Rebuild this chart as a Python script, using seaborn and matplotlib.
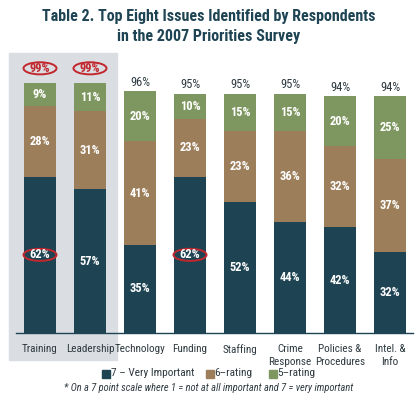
import numpy as np
import pandas as pd
import seaborn as sns
import matplotlib.pyplot as plt
from matplotlib.patches import Ellipse, Rectangle

# datos
issues = ['Training', 'Leadership', 'Technology', 'Funding', 'Staffing',
          'Crime\nResponse', 'Policies &\nProcedures', 'Intel. &\nInfo']
rating7 = [62, 57, 35, 62, 52, 44, 42, 32]
rating6 = [28, 31, 41, 23, 28, 36, 32, 37]   # alto dibujado
rating6_text = ['28%', '31%', '41%', '23%', '23%', '36%', '32%', '37%']   # texto impreso
rating5 = [9, 11, 20, 10, 15, 15, 20, 25]
totals = [99, 99, 96, 95, 95, 95, 94, 94]
circled_total = [True, True, False, False, False, False, False, False]
circled_r7 = [True, False, False, True, False, False, False, False]

c7 = '#1e4454'
c6 = '#9c7e5a'
c5 = '#7e9760'
red = '#c1272d'
title_col = '#1e4454'
txt_col = '#2e3a40'

sns.set_style('white')
plt.rcParams['font.family'] = ['Roboto Condensed', 'Archivo Narrow', 'DejaVu Sans']

df = pd.DataFrame({'issue': issues, 'r7': rating7, 'r6': rating6, 'r5': rating5})
df['r76'] = df['r7'] + df['r6']
df['r765'] = df['r76'] + df['r5']

W, H = 418, 397
fig = plt.figure(figsize=(W / 100, H / 100), dpi=100)
ax = fig.add_axes([16 / W, (H - 333) / H, (413 - 16) / W, (333 - 60) / H])
ax.set_facecolor('none')

# panel gris detras de Training y Leadership
fig.patches.append(Rectangle((9 / W, (H - 360) / H), 108 / W, 307 / H,
                             transform=fig.transFigure, color='#dadde2',
                             zorder=-1))

bw = 0.64
sns.barplot(data=df, x='issue', y='r765', color=c5, saturation=1, width=bw,
            linewidth=0, ax=ax)
sns.barplot(data=df, x='issue', y='r76', color=c6, saturation=1, width=bw,
            linewidth=0, ax=ax)
sns.barplot(data=df, x='issue', y='r7', color=c7, saturation=1, width=bw,
            linewidth=0, ax=ax)

ax.set_xlim(-0.48, 7.46)
ax.set_ylim(0, 108.3)

lab = dict(ha='center', va='center', color='white', fontsize=9, fontweight='bold')
for i in range(len(issues)):
    ax.text(i, rating7[i] / 2, f'{rating7[i]}%', **lab)
    ax.text(i, rating7[i] + rating6[i] / 2, rating6_text[i], **lab)
    ax.text(i, rating7[i] + rating6[i] + rating5[i] / 2, f'{rating5[i]}%', **lab)
    if circled_total[i]:
        y = totals[i] + 6
        ax.text(i, y, f'{totals[i]}%', ha='center', va='center', color=red,
                fontsize=9, fontweight='bold')
        ax.add_patch(Ellipse((i, y), 0.66, 4.8, fill=False, edgecolor=red,
                             lw=1.4, clip_on=False))
    else:
        ax.text(i, totals[i] + 3.4, f'{totals[i]}%', ha='center', va='center',
                color=txt_col, fontsize=9)
    if circled_r7[i]:
        ax.add_patch(Ellipse((i, rating7[i] / 2), 0.66, 4.8, fill=False,
                             edgecolor=red, lw=1.4))

sns.despine(ax=ax, left=True)
ax.spines['bottom'].set_color(c7)
ax.spines['bottom'].set_linewidth(1)
ax.set_yticks([])
ax.set_xlabel('')
ax.set_ylabel('')
ax.tick_params(axis='x', length=0, pad=8, labelsize=8, colors=txt_col)
for t in ax.get_xticklabels():
    t.set_linespacing(1.35)

fig.text(0.5, 1 - 16 / H, 'Table 2. Top Eight Issues Identified by Respondents',
         ha='center', va='center', fontsize=11.5, fontweight='bold', color=title_col)
fig.text(0.5, 1 - 37 / H, 'in the 2007 Priorities Survey',
         ha='center', va='center', fontsize=11.5, fontweight='bold', color=title_col)

# leyenda
legend_items = [('7 – Very Important', c7, 102), ('6–rating', c6, 206),
                ('5–rating', c5, 269)]
for name, col, px in legend_items:
    fig.patches.append(Rectangle((px / W, (H - 378) / H), 8 / W, 8 / H,
                                 transform=fig.transFigure, color=col))
    fig.text((px + 8.5) / W, 1 - 373.5 / H, name, ha='left', va='center',
             fontsize=8.2, color=txt_col)

fig.text(0.5, 1 - 388 / H,
         '* On a 7 point scale where 1 = not at all important and 7 = very important',
         ha='center', va='center', fontsize=7.5, style='italic', color=txt_col)

fig.savefig('out.png', dpi=100)
